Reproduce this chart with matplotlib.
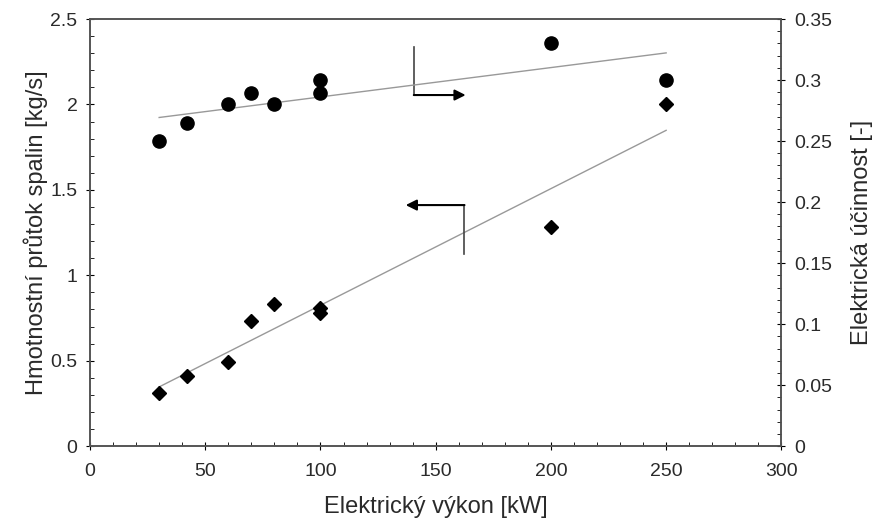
import matplotlib.pyplot as plt
import numpy as np
from matplotlib.ticker import MultipleLocator, FuncFormatter

plt.rcParams['font.family'] = ['Liberation Sans', 'DejaVu Sans']

# elektricky vykon [kW]
vykon = [30, 42, 60, 70, 80, 100, 100, 200, 250]
# hmotnostni prutok spalin [kg/s] (kosoctverce, leva osa)
prutok = [0.31, 0.41, 0.49, 0.73, 0.83, 0.81, 0.78, 1.28, 2.0]
# elektricka ucinnost [-] (kolecka, prava osa)
ucinnost = [0.25, 0.265, 0.28, 0.289, 0.28, 0.30, 0.289, 0.33, 0.30]

x = np.array(vykon)
xl = np.array([min(vykon), max(vykon)])
k1 = np.polyfit(x, prutok, 1)
k2 = np.polyfit(x, ucinnost, 1)

fig = plt.figure(figsize=(8.74, 5.28), dpi=100)
ax = fig.add_axes([0.103, 0.155, 0.791, 0.809])
ax2 = ax.twinx()

txt = '#2a2a2a'
ax.plot(xl, np.polyval(k1, xl), color='#999999', lw=1)
ax.plot(vykon, prutok, 'D', color='black', ms=7.5, ls='none')
ax2.plot(xl, np.polyval(k2, xl), color='#999999', lw=1)
ax2.plot(vykon, ucinnost, 'o', color='black', ms=9.5, ls='none')

ax.set_xlim(0, 300)
ax.set_ylim(0, 2.5)
ax2.set_ylim(0, 0.35)
ax.xaxis.set_major_locator(MultipleLocator(50))
ax.xaxis.set_minor_locator(MultipleLocator(10))
ax.yaxis.set_major_locator(MultipleLocator(0.5))
ax.yaxis.set_minor_locator(MultipleLocator(0.1))
ax2.yaxis.set_major_locator(MultipleLocator(0.05))
ax2.yaxis.set_minor_locator(MultipleLocator(0.01))
fmt = FuncFormatter(lambda v, p: f'{v:.2f}'.rstrip('0').rstrip('.'))
ax.yaxis.set_major_formatter(fmt)
ax2.yaxis.set_major_formatter(fmt)

for a in (ax, ax2):
    a.tick_params(which='major', direction='inout', length=6, width=0.8,
                  labelsize=14, labelcolor=txt, pad=6)
    a.tick_params(which='minor', direction='in', length=3, width=0.6)
    for s in a.spines.values():
        s.set_color('#555555')
        s.set_linewidth(1.2)
ax.tick_params(axis='x', which='major', pad=9)

ax.set_xlabel('Elektrický výkon [kW]', fontsize=17, color=txt, labelpad=12)
ax.set_ylabel('Hmotnostní průtok spalin [kg/s]', fontsize=17, color=txt, labelpad=2)
ax2.set_ylabel('Elektrická účinnost [-]', fontsize=17, color=txt, labelpad=14)

# sipky ukazujici osy
ax.plot([140.5, 140.5], [2.336, 2.055], color='#444444', lw=1.2)
ax.annotate('', xy=(163, 2.055), xytext=(140.5, 2.055),
            arrowprops=dict(arrowstyle='-|>', color='black', lw=1.5,
                            mutation_scale=16, shrinkA=0, shrinkB=0))
ax.plot([162.5, 162.5], [1.411, 1.124], color='#444444', lw=1.2)
ax.annotate('', xy=(137, 1.411), xytext=(162.5, 1.411),
            arrowprops=dict(arrowstyle='-|>', color='black', lw=1.5,
                            mutation_scale=16, shrinkA=0, shrinkB=0))

fig.savefig('out.png', dpi=100)
